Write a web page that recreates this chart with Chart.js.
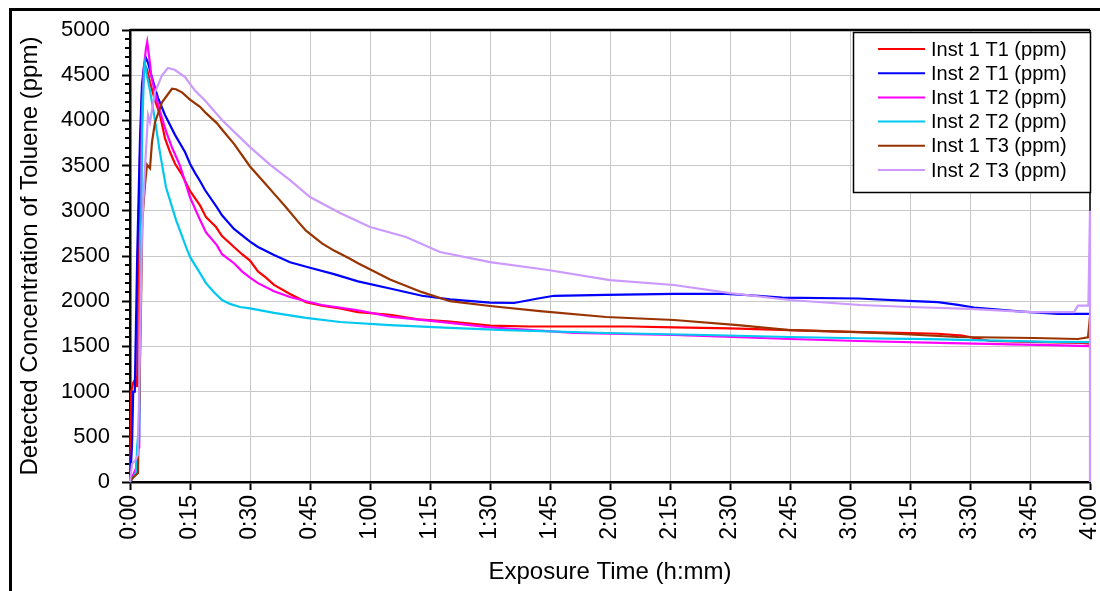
<!DOCTYPE html>
<html>
<head>
<meta charset="utf-8">
<title>Toluene exposure</title>
<script src="https://cdn.jsdelivr.net/npm/chart.js@4.4.0/dist/chart.umd.min.js"></script>
<style>
  html, body { margin: 0; padding: 0; background: #fff; }
  #wrap { width: 1100px; height: 591px; }
</style>
</head>
<body>
<div id="wrap"><canvas id="tolueneChart" width="1100" height="591"></canvas></div>
<script>
// exposure time in minutes, concentration in ppm
const seriesNames = ['Inst 1 T1 (ppm)', 'Inst 2 T1 (ppm)', 'Inst 1 T2 (ppm)', 'Inst 2 T2 (ppm)', 'Inst 1 T3 (ppm)', 'Inst 2 T3 (ppm)'];
const seriesColors = ['#ff0000', '#0000ff', '#ff00ff', '#00c8f0', '#993300', '#cc99ff'];

const tInst1T1 = [0, 0.3, 0.8, 1.5, 1.8, 2.0, 2.5, 3.0, 3.5, 3.75, 4.3, 5, 6.25, 7.5, 8.75, 10, 11.25, 13, 15, 17.5, 19, 21.5, 23, 26, 28, 30, 32, 34, 36, 40, 44, 48, 52.5, 57, 65, 72, 80, 90, 100, 111, 125, 136, 150, 165, 180, 192, 202, 208, 215, 225, 238, 240];
const inst1T1 = [100, 1000, 1100, 1150, 1050, 2500, 3600, 4300, 4560, 4610, 4560, 4420, 4220, 4060, 3800, 3650, 3520, 3400, 3220, 3060, 2930, 2820, 2720, 2600, 2520, 2450, 2330, 2260, 2180, 2080, 1990, 1950, 1920, 1880, 1850, 1800, 1775, 1730, 1720, 1720, 1720, 1710, 1700, 1680, 1660, 1650, 1640, 1620, 1560, 1550, 1540, 1530];

const tInst2T1 = [0, 0.5, 0.8, 1.2, 1.8, 2.5, 3.0, 3.5, 4.0, 4.5, 5.5, 7, 8.75, 11.25, 13.75, 15, 16.25, 17.5, 18.75, 21.7, 23, 26, 30, 32, 36, 40, 45, 51, 57, 65, 73, 80, 90, 96, 102, 106, 119, 136, 149, 157, 163, 182, 196, 202, 207, 211, 223, 232, 240];
const inst2T1 = [0, 400, 1000, 1000, 2500, 3800, 4400, 4600, 4690, 4640, 4470, 4250, 4060, 3840, 3650, 3520, 3420, 3330, 3230, 3040, 2950, 2800, 2660, 2600, 2510, 2430, 2370, 2300, 2220, 2140, 2060, 2020, 1985, 1980, 2030, 2060, 2070, 2080, 2080, 2060, 2040, 2030, 2000, 1990, 1960, 1930, 1885, 1860, 1860];

const tInst1T2 = [0, 1.5, 2.0, 2.3, 2.6, 3.0, 3.5, 4.0, 4.3, 4.8, 5.3, 6.25, 7.5, 9, 10.5, 12.5, 15, 17.5, 19, 21.7, 23, 26, 28, 30, 32, 36, 40, 44, 48, 57, 65, 80, 90, 111, 136, 165, 182, 205, 230, 240];
const inst1T2 = [0, 150, 370, 380, 2500, 4100, 4600, 4800, 4870, 4700, 4500, 4300, 4100, 3880, 3700, 3500, 3150, 2900, 2760, 2620, 2520, 2420, 2330, 2260, 2200, 2110, 2046, 2000, 1958, 1900, 1830, 1760, 1710, 1650, 1626, 1582, 1560, 1537, 1515, 1504];

const tInst2T2 = [0, 1.5, 1.8, 2.0, 2.3, 2.5, 3.0, 3.5, 3.75, 4.2, 5, 6.25, 7.5, 9, 11.5, 14, 15, 17.5, 19, 21, 23, 25, 27.5, 30, 36, 44, 52.5, 65, 80, 94, 119, 144, 165, 182, 200, 230, 240];
const inst2T2 = [0, 100, 400, 500, 480, 1500, 3800, 4550, 4630, 4500, 4330, 4000, 3640, 3260, 2900, 2600, 2490, 2310, 2200, 2100, 2013, 1970, 1936, 1920, 1870, 1815, 1770, 1736, 1705, 1680, 1648, 1626, 1604, 1590, 1580, 1550, 1548];

const tInst1T3 = [0, 0.8, 2.0, 2.8, 3.1, 3.75, 4.25, 5, 5.5, 6.25, 8, 10.5, 11.5, 13, 15, 17.5, 19, 21.7, 23, 26, 30, 32, 34, 36, 39, 42, 44, 48, 51, 55, 57, 65, 73, 80, 90, 102.5, 119, 136, 152, 165, 182, 192.5, 207, 226, 237, 239.5, 240];
const inst1T3 = [0, 50, 100, 2100, 2900, 3290, 3510, 3470, 3760, 3980, 4200, 4350, 4345, 4310, 4230, 4150, 4080, 3970, 3900, 3740, 3490, 3390, 3290, 3190, 3040, 2880, 2780, 2640, 2560, 2470, 2420, 2240, 2100, 2000, 1947, 1891, 1825, 1792, 1736, 1681, 1659, 1637, 1604, 1593, 1582, 1600, 1830];

const tInst2T3 = [0, 0.5, 1.5, 2.0, 2.5, 3.0, 3.75, 4.5, 5, 6.25, 8, 9.5, 11.25, 13.75, 16.25, 18.75, 23, 30, 35, 40, 45, 52.5, 60, 69, 77.5, 90, 104.5, 120, 136, 150, 165, 182.5, 195, 210, 225, 236, 237, 239.6, 240, 240];
const inst2T3 = [0, 200, 250, 300, 1500, 2800, 3470, 4060, 3980, 4310, 4500, 4580, 4557, 4480, 4330, 4220, 4004, 3705, 3510, 3340, 3152, 2975, 2820, 2710, 2544, 2433, 2345, 2234, 2179, 2090, 2013, 1958, 1936, 1915, 1880, 1880, 1950, 1950, 3000, 0];

const yTicks = [0, 500, 1000, 1500, 2000, 2500, 3000, 3500, 4000, 4500, 5000];

const times = [tInst1T1, tInst2T1, tInst1T2, tInst2T2, tInst1T3, tInst2T3];
const values = [inst1T1, inst2T1, inst1T2, inst2T2, inst1T3, inst2T3];

const fontFamily = '"Liberation Sans", Arial, sans-serif';

function hmm(v) {
  const m = Math.round(v);
  return Math.floor(m / 60) + ':' + String(m % 60).padStart(2, '0');
}

const datasets = seriesNames.map((name, i) => ({
  label: name,
  data: times[i].map((t, k) => ({ x: t, y: values[i][k] })),
  borderColor: seriesColors[i],
  backgroundColor: seriesColors[i],
  borderWidth: 2.2,
  pointRadius: 0,
  tension: 0,
  clip: 4,
  order: seriesNames.length - i
}));

// frame, plot border, minor ticks and the boxed legend
const decorPlugin = {
  id: 'decor',
  beforeDraw(chart) {
    const c = chart.ctx;
    c.save();
    c.fillStyle = '#fff';
    c.fillRect(0, 0, chart.width, chart.height);
    c.strokeStyle = '#000';
    c.lineWidth = 3;
    c.beginPath();
    c.moveTo(10.5, chart.height);
    c.lineTo(10.5, 9.5);
    c.lineTo(chart.width, 9.5);
    c.stroke();
    c.restore();
  },
  beforeDatasetsDraw(chart) {
    const c = chart.ctx;
    const a = chart.chartArea;
    const ys = chart.scales.y;
    c.save();
    c.strokeStyle = '#000';
    c.lineWidth = 2.5;
    c.beginPath();
    c.moveTo(a.left, a.top);
    c.lineTo(a.right, a.top);
    c.stroke();
    c.lineWidth = 1.5;
    c.beginPath();
    c.moveTo(a.right, a.top);
    c.lineTo(a.right, a.bottom);
    c.stroke();
    c.lineWidth = 2;
    c.beginPath();
    for (let v = 100; v < 5000; v += 100) {
      if (v % 500 === 0) continue;
      const py = Math.round(ys.getPixelForValue(v));
      c.moveTo(a.left - 5, py);
      c.lineTo(a.left, py);
    }
    c.stroke();
    c.restore();
  },
  afterDatasetsDraw(chart) {
    const c = chart.ctx;
    const bx = 853.5, by = 32.5, bw = 237, bh = 160;
    c.save();
    c.fillStyle = '#fff';
    c.fillRect(bx, by, bw, bh);
    c.strokeStyle = '#000';
    c.lineWidth = 1.5;
    c.strokeRect(bx, by, bw, bh);
    c.font = '20px ' + fontFamily;
    c.textBaseline = 'middle';
    c.fillStyle = '#000';
    chart.data.datasets.forEach((ds, i) => {
      const y = 49 + i * 24.2;
      c.strokeStyle = ds.borderColor;
      c.lineWidth = 2;
      c.beginPath();
      c.moveTo(878, y);
      c.lineTo(925, y);
      c.stroke();
      c.fillText(ds.label, 931, y + 1);
    });
    c.restore();
  }
};

new Chart(document.getElementById('tolueneChart'), {
  type: 'line',
  data: { datasets },
  options: {
    responsive: false,
    animation: false,
    events: [],
    layout: { padding: { left: 10, right: 10, top: 30, bottom: 0 } },
    plugins: {
      legend: { display: false },
      tooltip: { enabled: false }
    },
    scales: {
      x: {
        type: 'linear',
        min: 0,
        max: 240,
        afterFit(scale) {
          scale.height = 109;
          scale.paddingLeft = 0;
          scale.paddingRight = 0;
        },
        ticks: {
          stepSize: 15,
          minRotation: 90,
          maxRotation: 90,
          padding: 5,
          color: '#000',
          font: { family: fontFamily, size: 23 },
          callback: v => hmm(v)
        },
        grid: { color: '#c8c8c8', lineWidth: 1, tickColor: '#000', tickWidth: 2, tickLength: 8 },
        border: { color: '#000', width: 2.5 },
        title: {
          display: true,
          text: 'Exposure Time (h:mm)',
          color: '#000',
          font: { family: fontFamily, size: 24 },
          padding: { top: 0, bottom: 4 }
        }
      },
      y: {
        min: 0,
        max: 5000,
        afterFit(scale) {
          scale.width = 120;
        },
        afterBuildTicks(scale) {
          scale.ticks = yTicks.map(v => ({ value: v }));
        },
        ticks: {
          padding: 12,
          color: '#000',
          autoSkip: false,
          font: { family: fontFamily, size: 22 },
          callback: v => String(v)
        },
        grid: { color: '#c8c8c8', lineWidth: 1, tickColor: '#000', tickWidth: 2, tickLength: 8 },
        border: { color: '#000', width: 2.5 },
        title: {
          display: true,
          text: 'Detected Concentration of Toluene (ppm)',
          color: '#000',
          font: { family: fontFamily, size: 24 },
          padding: { top: 6, bottom: 0 }
        }
      }
    }
  },
  plugins: [decorPlugin]
});
</script>
</body>
</html>
